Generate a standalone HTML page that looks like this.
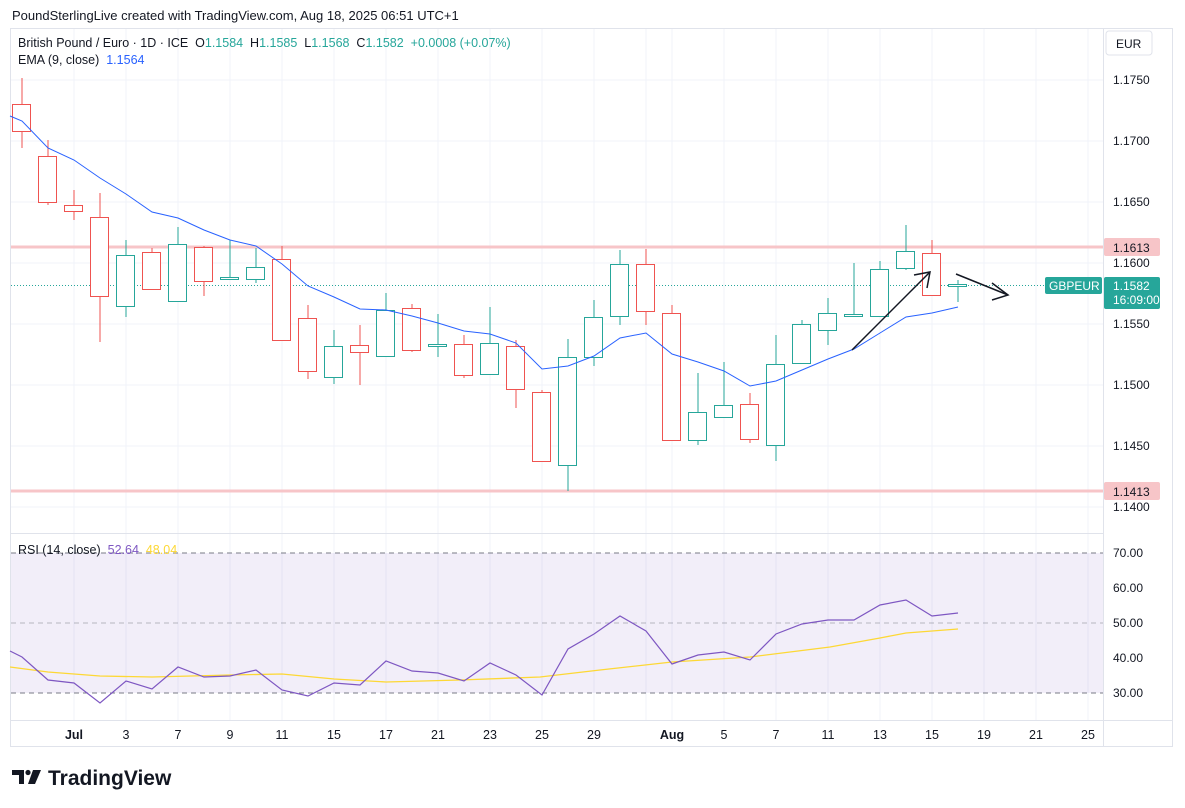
<!DOCTYPE html>
<html><head><meta charset="utf-8"><style>
body{margin:0;background:#fff;font-family:"Liberation Sans",sans-serif;}
svg{display:block}
text{font-family:"Liberation Sans",sans-serif;white-space:pre}
</style></head><body>
<svg id="s" width="1185" height="808" xmlns="http://www.w3.org/2000/svg"></svg>
<script>
const s=document.getElementById('s');let h='';
h+='<rect width="1185" height="808" fill="#fff"/>';
h+='<text x="12" y="20" font-size="13" fill="#131722">PoundSterlingLive created with TradingView.com, Aug 18, 2025 06:51 UTC+1</text>';
h+='<rect x="10.5" y="28.5" width="1162" height="718" fill="none" stroke="#e0e3eb"/>';
const gx=[74,126,178,230,282,334,386,438,490,542,594,646,672,724,776,828,880,932,984,1036,1088];
gx.forEach(x=>{h+=`<line x1="${x}" y1="29" x2="${x}" y2="720" stroke="#f0f3fa"/>`;});
const py=p=>80+(1.1750-p)/0.005*61;
[1.175,1.17,1.165,1.16,1.155,1.15,1.145,1.14].forEach(p=>{const y=py(p);h+=`<line x1="11" y1="${y}" x2="1103" y2="${y}" stroke="#f0f3fa"/><text x="1113" y="${y+4}" font-size="12" fill="#131722">${p.toFixed(4)}</text>`;});
h+='<line x1="1103.5" y1="29" x2="1103.5" y2="747" stroke="#e0e3eb"/>';
h+='<line x1="11" y1="533.5" x2="1103" y2="533.5" stroke="#e0e3eb"/>';
h+='<line x1="11" y1="720.5" x2="1172" y2="720.5" stroke="#e0e3eb"/>';
h+='<rect x="1106" y="31" width="46" height="24" fill="#fff" stroke="#e0e3eb" rx="3"/><text x="1116" y="48" font-size="12" fill="#131722">EUR</text>';
h+=`<line x1="11" y1="247" x2="1103" y2="247" stroke="#f7c5c8" stroke-width="3"/><line x1="11" y1="491" x2="1103" y2="491" stroke="#f7c5c8" stroke-width="3"/>`;
h+='<rect x="1104" y="238" width="56" height="18" fill="#f7c5c8" rx="2"/><text x="1113" y="252" font-size="12" fill="#131722">1.1613</text>';
h+='<rect x="1104" y="482" width="56" height="18" fill="#f7c5c8" rx="2"/><text x="1113" y="496" font-size="12" fill="#131722">1.1413</text>';
h+='<line x1="11" y1="285.5" x2="1045" y2="285.5" stroke="#26a69a" stroke-dasharray="1,2"/>';
h+='<rect x="1045" y="277" width="57" height="17" fill="#26a69a" rx="2"/><text x="1049" y="290" font-size="12" fill="#fff">GBPEUR</text>';
h+='<rect x="1104" y="277" width="56" height="32" fill="#26a69a" rx="2"/><text x="1113" y="290" font-size="12" fill="#fff">1.1582</text><text x="1113" y="304" font-size="12" fill="#fff">16:09:00</text>';
const C=[[22,104,131,78,148],[48,156,202,140,205],[74,205,211,190,220],[100,217,296,193,342],[126,306,255,240,317],[152,252,289,248,290],[178,301,244,227,302],[204,247,281,246,296],[230,279,277,240,280],[256,279,267,248,283],[282,259,340,246,341],[308,318,371,305,379],[334,377,346,330,384],[360,345,352,325,385],[386,356,310,293,357],[412,308,350,304,352],[438,346,344,314,357],[464,344,375,335,378],[490,374,343,307,375],[516,346,389,340,408],[542,392,461,390,462],[568,465,357,339,491],[594,357,317,300,366],[620,316,264,250,325],[646,264,311,249,325],[672,313,440,305,441],[698,440,412,373,445],[724,417,405,362,418],[750,404,439,393,443],[776,445,364,335,461],[802,363,324,320,364],[828,330,313,298,345],[854,316,314,263,317],[880,316,269,261,317],[906,268,251,225,270],[932,253,295,240,296],[958,286,284,280,302]];
C.forEach(([x,o,c,hi,lo])=>{const up=c<=o;const col=up?'#26a69a':'#ef5350';const t=Math.min(o,c),b=Math.max(o,c);
h+=`<line x1="${x}" y1="${hi}" x2="${x}" y2="${lo}" stroke="${col}"/><rect x="${x-9.5}" y="${t+.5}" width="18" height="${Math.max(b-t,1)}" fill="#fff" stroke="${col}"/>`;});
const E=[[10,116],[22,121],[48,148],[74,160],[100,178],[126,194],[152,212],[178,218],[204,230],[230,240],[256,246],[282,264],[308,286],[334,297],[360,309],[386,310],[412,316],[438,323],[464,331],[490,334],[516,343],[542,369],[568,366],[594,356],[620,338],[646,333],[672,354],[698,362],[724,371],[750,386],[776,381],[802,370],[828,359],[854,349],[880,333],[906,317],[932,313],[958,307]];
h+=`<polyline points="${E.map(p=>p.join(',')).join(' ')}" fill="none" stroke="#2962ff" stroke-width="1"/>`;
h+='<line x1="852" y1="350" x2="929" y2="273" stroke="#131722" stroke-width="1.5"/><polyline points="914,275 930,272 927,288" fill="none" stroke="#131722" stroke-width="1.5"/>';
h+='<line x1="956" y1="274" x2="1008" y2="295" stroke="#131722" stroke-width="1.5"/><polyline points="992,283 1008,295 992,300" fill="none" stroke="#131722" stroke-width="1.5"/>';
h+='<text x="18" y="47" font-size="12.5" fill="#131722">British Pound / Euro · 1D · ICE  O<tspan fill="#26a69a">1.1584</tspan>  H<tspan fill="#26a69a">1.1585</tspan>  L<tspan fill="#26a69a">1.1568</tspan>  C<tspan fill="#26a69a">1.1582</tspan>  <tspan fill="#26a69a">+0.0008 (+0.07%)</tspan></text>';
h+='<text x="18" y="64" font-size="12.5" fill="#131722">EMA (9, close)  <tspan fill="#2962ff">1.1564</tspan></text>';
const ry=v=>553+(70-v)*3.5;
h+=`<rect x="11" y="553" width="1092" height="140" fill="#7e57c2" fill-opacity="0.1"/>`;
[70,50,30].forEach(v=>h+=`<line x1="11" y1="${ry(v)}" x2="1103" y2="${ry(v)}" stroke="#787b86" stroke-dasharray="5,4" stroke-opacity="${v==50?0.5:1}"/>`);
[70,60,50,40,30].forEach(v=>h+=`<text x="1113" y="${ry(v)+4}" font-size="12" fill="#131722">${v.toFixed(2)}</text>`);
const R=[[10,651],[22,657],[48,680],[74,683],[100,703],[126,681],[152,689],[178,667],[204,677],[230,676],[256,670],[282,690],[308,696],[334,683],[360,685],[386,661],[412,671],[438,673],[464,681],[490,663],[516,675],[542,695],[568,649],[594,634],[620,616],[646,631],[672,664],[698,655],[724,652],[750,660],[776,634],[802,624],[828,620],[854,620],[880,605],[906,600],[932,616],[958,613]];
const M=[[10,667],[48,672],[100,676],[152,677],[230,675],[282,674],[334,679],[386,682],[460,680],[540,677],[600,670],[672,662],[750,657],[830,647],[880,638],[906,633],[958,629]];
h+=`<polyline points="${M.map(p=>p.join(',')).join(' ')}" fill="none" stroke="#fdd835" stroke-width="1.3"/>`;
h+=`<polyline points="${R.map(p=>p.join(',')).join(' ')}" fill="none" stroke="#7e57c2" stroke-width="1.2"/>`;
h+='<text x="18" y="554" font-size="12.5" fill="#131722">RSI (14, close)  <tspan fill="#7e57c2">52.64</tspan>  <tspan fill="#fdd835">48.04</tspan></text>';
const L=[[74,'Jul',1],[126,'3'],[178,'7'],[230,'9'],[282,'11'],[334,'15'],[386,'17'],[438,'21'],[490,'23'],[542,'25'],[594,'29'],[672,'Aug',1],[724,'5'],[776,'7'],[828,'11'],[880,'13'],[932,'15'],[984,'19'],[1036,'21'],[1088,'25']];
L.forEach(([x,t,b])=>h+=`<text x="${x}" y="739" font-size="12.5" text-anchor="middle" fill="#131722" ${b?'font-weight="bold"':''}>${t}</text>`);
h+='<path d="M12 770h12v14h-5v-9h-7z" fill="#131722"/><circle cx="28" cy="772.5" r="2.6" fill="#131722"/><path d="M33 770h8l-6 14h-7z" fill="#131722"/>';
h+='<text x="48" y="785" font-size="21" font-weight="bold" fill="#131722">TradingView</text>';
s.innerHTML=h;
</script>
</body></html>
